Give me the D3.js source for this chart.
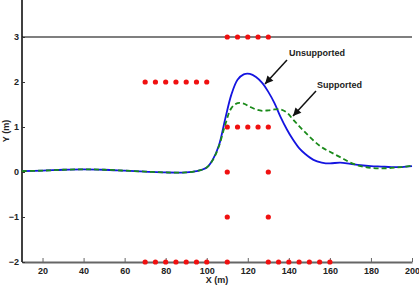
<!DOCTYPE html>
<html>
<head>
<meta charset="utf-8">
<script src="https://cdn.jsdelivr.net/npm/d3@7"></script>
<style>
  body { margin: 0; background: #fff; }
  svg { display: block; font-family: "Liberation Sans", Arial, sans-serif; }
</style>
</head>
<body>
<svg id="chart" width="419" height="290"></svg>
<script>
// wave profile, unsupported vs supported
const xs = [10, 20, 30, 40, 50, 60, 70, 80, 90, 95, 100, 103, 106, 109, 112, 115, 118, 121, 124, 127,
    130, 133, 136, 139, 142, 145, 148, 152, 156, 160, 165, 170, 175, 180, 185, 190, 195, 200];
const unsupported = [0.02, 0.03, 0.05, 0.06, 0.05, 0.03, 0.01, -0.01, -0.01, 0.02, 0.1, 0.28, 0.6, 1.18, 1.72, 2.05, 2.17, 2.18, 2.11, 1.98,
    1.78, 1.53, 1.22, 0.95, 0.72, 0.53, 0.4, 0.27, 0.21, 0.19, 0.21, 0.18, 0.15, 0.13, 0.12, 0.11, 0.11, 0.13];
const supported = [0.02, 0.03, 0.05, 0.06, 0.05, 0.03, 0.01, -0.01, -0.01, 0.02, 0.1, 0.27, 0.58, 1.05, 1.42, 1.53, 1.52, 1.45, 1.39, 1.36,
    1.37, 1.39, 1.39, 1.32, 1.17, 1.02, 0.88, 0.7, 0.55, 0.45, 0.33, 0.21, 0.13, 0.09, 0.08, 0.09, 0.11, 0.14];

// red markers: [x, y]
const dotsX = [110, 115, 120, 125, 130, 70, 75, 80, 85, 90, 95, 100, 110, 115, 120, 125, 130, 110, 130, 110, 130,
    70, 75, 80, 85, 90, 95, 100, 110, 130, 135, 140, 145, 150, 155, 160];
const dotsY = [3, 3, 3, 3, 3, 2, 2, 2, 2, 2, 2, 2, 1, 1, 1, 1, 1, 0, 0, -1, -1,
    -2, -2, -2, -2, -2, -2, -2, -2, -2, -2, -2, -2, -2, -2, -2];

const xTicks = [20, 40, 60, 80, 100, 120, 140, 160, 180, 200];
const yTicks = [-2, -1, 0, 1, 2, 3];

const svg = d3.select('#chart');

const x = d3.scaleLinear().domain([10, 200]).range([22, 412]);
const y = d3.scaleLinear().domain([-2, 3]).range([262, 37]);

// axes
svg.append('line')
    .attr('x1', x(10)).attr('x2', x(200))
    .attr('y1', y(3)).attr('y2', y(3))
    .attr('stroke', '#000').attr('stroke-width', 1.2);

const xAxis = svg.append('g')
    .attr('transform', `translate(0,${y(-2)})`)
    .call(d3.axisBottom(x).tickValues(xTicks).tickSizeInner(-4).tickSizeOuter(0).tickPadding(6));
xAxis.select('.domain').attr('stroke', '#666').attr('stroke-width', 2);
xAxis.selectAll('.tick line').attr('stroke', '#666');
xAxis.selectAll('text').attr('font-size', 9).attr('font-weight', 'bold').attr('fill', '#222');

const yAxis = svg.append('g')
    .attr('transform', `translate(${x(10)},0)`)
    .call(d3.axisLeft(y).tickValues(yTicks).tickFormat(d3.format('d')).tickSizeInner(-3).tickSizeOuter(0).tickPadding(3));
yAxis.select('.domain').attr('d', `M0,0V${y(-2)}`).attr('stroke', '#000').attr('stroke-width', 1.5);
yAxis.selectAll('.tick line').attr('stroke', '#333');
yAxis.selectAll('text').attr('font-size', 9).attr('font-weight', 'bold').attr('fill', '#222');

svg.append('text')
    .attr('x', 217).attr('y', 283)
    .attr('text-anchor', 'middle')
    .attr('font-size', 9).attr('font-weight', 'bold').attr('fill', '#222')
    .text('X (m)');

svg.append('text')
    .attr('transform', 'translate(9,131) rotate(-90)')
    .attr('text-anchor', 'middle')
    .attr('font-size', 9).attr('font-weight', 'bold').attr('fill', '#222')
    .text('Y (m)');

// markers
svg.append('g').selectAll('circle')
    .data(dotsX.map((d, i) => [d, dotsY[i]]))
    .join('circle')
    .attr('cx', d => x(d[0]))
    .attr('cy', d => y(d[1]))
    .attr('r', 2.6)
    .attr('fill', '#f01010');

// curves
const line = d3.line()
    .x(d => x(d[0]))
    .y(d => y(d[1]))
    .curve(d3.curveCatmullRom.alpha(0.5));

svg.append('path')
    .datum(xs.map((d, i) => [d, unsupported[i]]))
    .attr('d', line)
    .attr('fill', 'none')
    .attr('stroke', '#1414e0')
    .attr('stroke-width', 1.8);

svg.append('path')
    .datum(xs.map((d, i) => [d, supported[i]]))
    .attr('d', line)
    .attr('fill', 'none')
    .attr('stroke', '#1a8a1a')
    .attr('stroke-width', 1.8)
    .attr('stroke-dasharray', '5,3');

// annotations
svg.append('defs').append('marker')
    .attr('id', 'arrowhead')
    .attr('viewBox', '0 -5 10 10')
    .attr('refX', 10)
    .attr('refY', 0)
    .attr('orient', 'auto')
    .attr('markerUnits', 'userSpaceOnUse')
    .attr('markerWidth', 9)
    .attr('markerHeight', 8)
    .append('path')
    .attr('d', 'M0,-5L10,0L0,5Z')
    .attr('fill', '#111');

const notes = [
    { label: 'Unsupported', tx: 289, ty: 56, from: [287, 60], to: [265, 84] },
    { label: 'Supported', tx: 317, ty: 88, from: [316, 91], to: [293, 116] }
];

notes.forEach(n => {
    svg.append('line')
        .attr('x1', n.from[0]).attr('y1', n.from[1])
        .attr('x2', n.to[0]).attr('y2', n.to[1])
        .attr('stroke', '#111').attr('stroke-width', 1.5)
        .attr('marker-end', 'url(#arrowhead)');
    svg.append('text')
        .attr('x', n.tx).attr('y', n.ty)
        .attr('font-size', 9).attr('font-weight', 'bold').attr('fill', '#222')
        .text(n.label);
});
</script>
</body>
</html>
